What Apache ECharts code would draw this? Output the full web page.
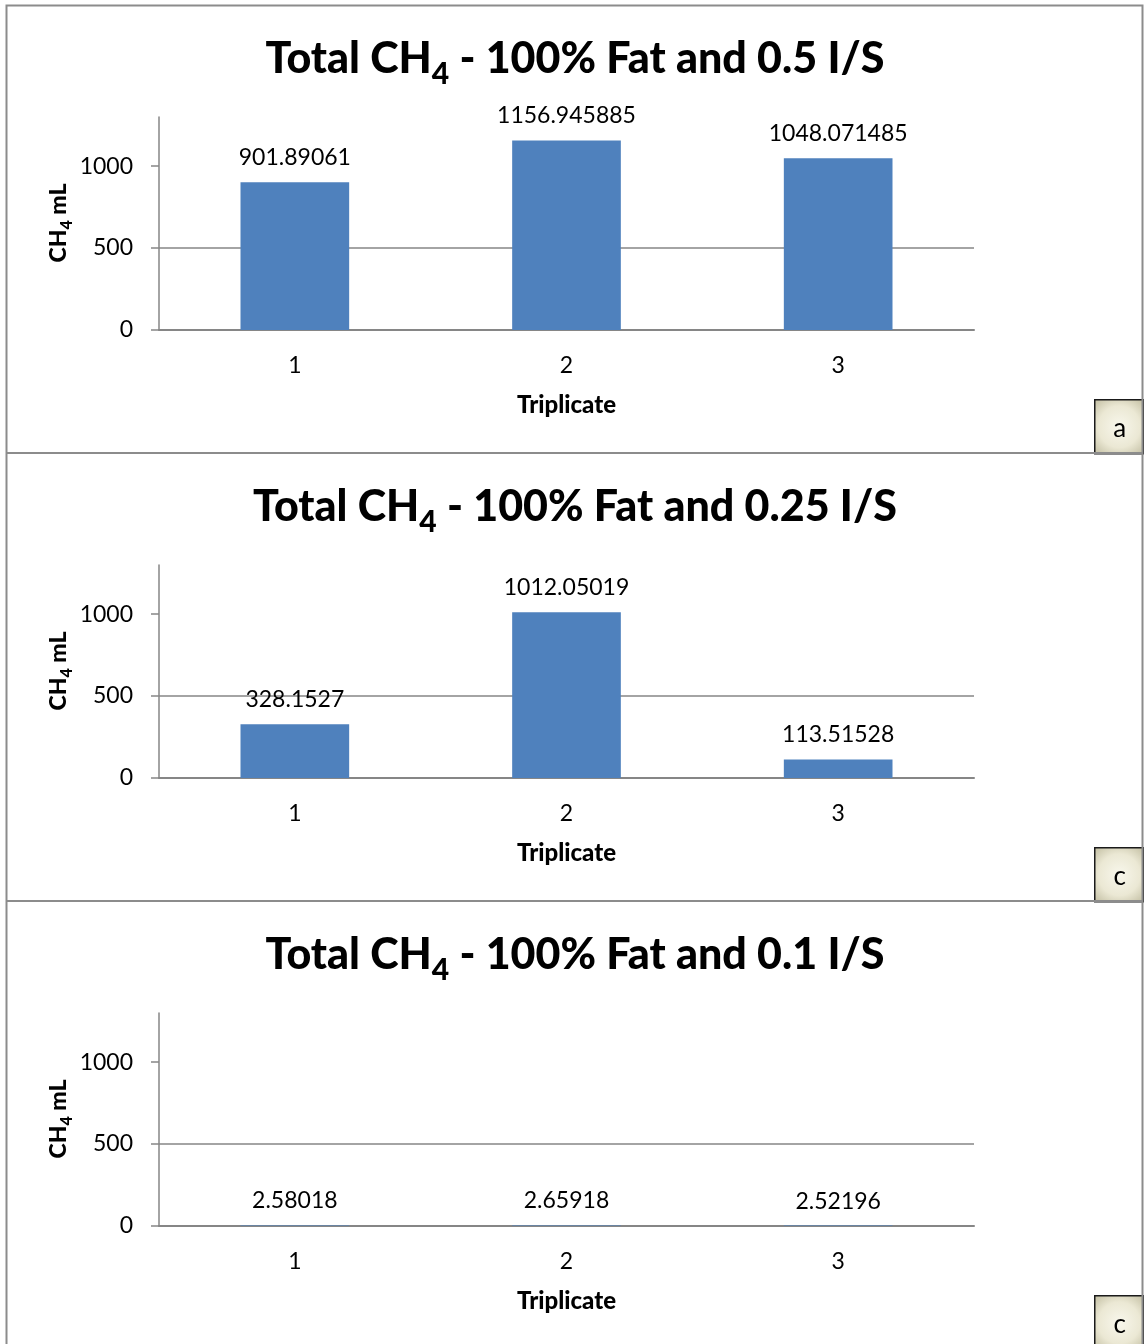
<!DOCTYPE html>
<html>
<head>
<meta charset="utf-8">
<script src="https://cdn.jsdelivr.net/npm/echarts@6/dist/echarts.min.js"></script>
<style>
  html, body { margin: 0; padding: 0; background: #fff; }
  #chart { width: 1144px; height: 1344px; }
</style>
</head>
<body>
<div id="chart"></div>
<script>
// Total methane per triplicate, one panel per inoculum/substrate ratio
const categories = ['1', '2', '3'];
const ratioLabels = ['0.5', '0.25', '0.1'];
const panelTags = ['a', 'c', 'c'];
const ch4_05 = [901.89061, 1156.945885, 1048.071485];
const ch4_025 = [328.1527, 1012.05019, 113.51528];
const ch4_01 = [2.58018, 2.65918, 2.52196];
const yTicks = [0, 500, 1000];
const panelValues = [ch4_05, ch4_025, ch4_01];

const FONT = 'Lato';
const HEAVY = 900;
const PANEL_H = 448;
const AXIS_GREY = '#868686';

const grids = [], xAxes = [], yAxes = [], series = [], graphics = [];

// bold text with a lowered "4" subscript, drawn as rich text tokens
function chemRich(size, subSize, drop) {
  return {
    b: { fontFamily: FONT, fontWeight: HEAVY, fontSize: size, fill: '#000', lineHeight: size + 6, verticalAlign: 'top' },
    s: { fontFamily: FONT, fontWeight: HEAVY, fontSize: subSize, fill: '#000', lineHeight: subSize + 2, verticalAlign: 'top', padding: [drop, 0, 0, 0] }
  };
}

panelValues.forEach((vals, i) => {
  const off = i * PANEL_H;
  grids.push({ left: 159, width: 815, top: 117 + off, height: 213 });

  // panel title
  graphics.push({
    type: 'text', x: 575, y: 62 + off,
    style: {
      text: '{b|Total CH}{s|4}{b| - 100% Fat and ' + ratioLabels[i] + ' I/S}',
      align: 'center', verticalAlign: 'middle',
      rich: chemRich(43, 30, 22)
    }
  });

  // y-axis title, rotated
  graphics.push({
    type: 'text', x: 62, y: 223 + off, rotation: Math.PI / 2,
    style: {
      text: '{b|CH}{s|4}{b| mL}',
      align: 'center', verticalAlign: 'middle',
      rich: chemRich(23, 16, 11)
    }
  });

  xAxes.push({
    type: 'category', gridIndex: i, data: categories,
    axisLine: { lineStyle: { color: AXIS_GREY, width: 2 } },
    axisTick: { show: false },
    axisLabel: { color: '#000', fontFamily: FONT, fontSize: 23, margin: 24 },
    name: 'Triplicate', nameLocation: 'middle', nameGap: 63,
    nameTextStyle: { fontFamily: FONT, fontWeight: HEAVY, fontSize: 24, color: '#000' }
  });

  yAxes.push({
    type: 'value', gridIndex: i, min: 0, max: 1300, interval: 500,
    axisLine: { show: true, lineStyle: { color: AXIS_GREY, width: 1.5 } },
    axisTick: { show: true, customValues: yTicks, length: 8, lineStyle: { color: AXIS_GREY, width: 1.5 } },
    axisLabel: { customValues: yTicks, formatter: v => String(v), color: '#000', fontFamily: FONT, fontSize: 23, margin: 26 },
    splitLine: { show: true, showMaxLine: false, lineStyle: { color: AXIS_GREY, width: 1.5 } }
  });

  series.push({
    type: 'bar', xAxisIndex: i, yAxisIndex: i, data: vals,
    barWidth: '40%',
    itemStyle: { color: '#4F81BD' },
    label: {
      show: true, position: 'top', distance: 13,
      color: '#000', fontFamily: FONT, fontSize: 23,
      formatter: p => String(p.value)
    }
  });

  // tag box in the lower-right corner of each panel
  graphics.push({
    type: 'group', left: 1094, top: 399 + off,
    children: [
      {
        type: 'rect', shape: { x: 0, y: 0, width: 49, height: 54 },
        style: {
          fill: {
            type: 'radial', x: 0.5, y: 0.5, r: 0.75,
            colorStops: [{ offset: 0, color: '#f8f7ec' }, { offset: 0.55, color: '#ebe8d4' }, { offset: 1, color: '#bdb99c' }]
          },
          stroke: '#1a1a1a', lineWidth: 1.5
        }
      },
      {
        type: 'text', x: 25, y: 29,
        style: { text: panelTags[i], fontFamily: FONT, fontSize: 26, fill: '#000', align: 'center', verticalAlign: 'middle' }
      }
    ]
  });
});

// panel frame and dividers
graphics.push({
  type: 'rect', z: 10, silent: true,
  shape: { x: 6.5, y: 5.5, width: 1136, height: 1360 },
  style: { fill: null, stroke: '#8c8c8c', lineWidth: 2 }
});
[453, 901].forEach(y => graphics.push({
  type: 'line', z: 10, silent: true,
  shape: { x1: 6.5, y1: y, x2: 1142.5, y2: y },
  style: { stroke: '#8c8c8c', lineWidth: 2 }
}));

const chart = echarts.init(document.getElementById('chart'), null, { renderer: 'canvas' });
chart.setOption({
  animation: false,
  backgroundColor: '#fff',
  grid: grids,
  xAxis: xAxes,
  yAxis: yAxes,
  series: series,
  graphic: graphics
});
</script>
</body>
</html>
